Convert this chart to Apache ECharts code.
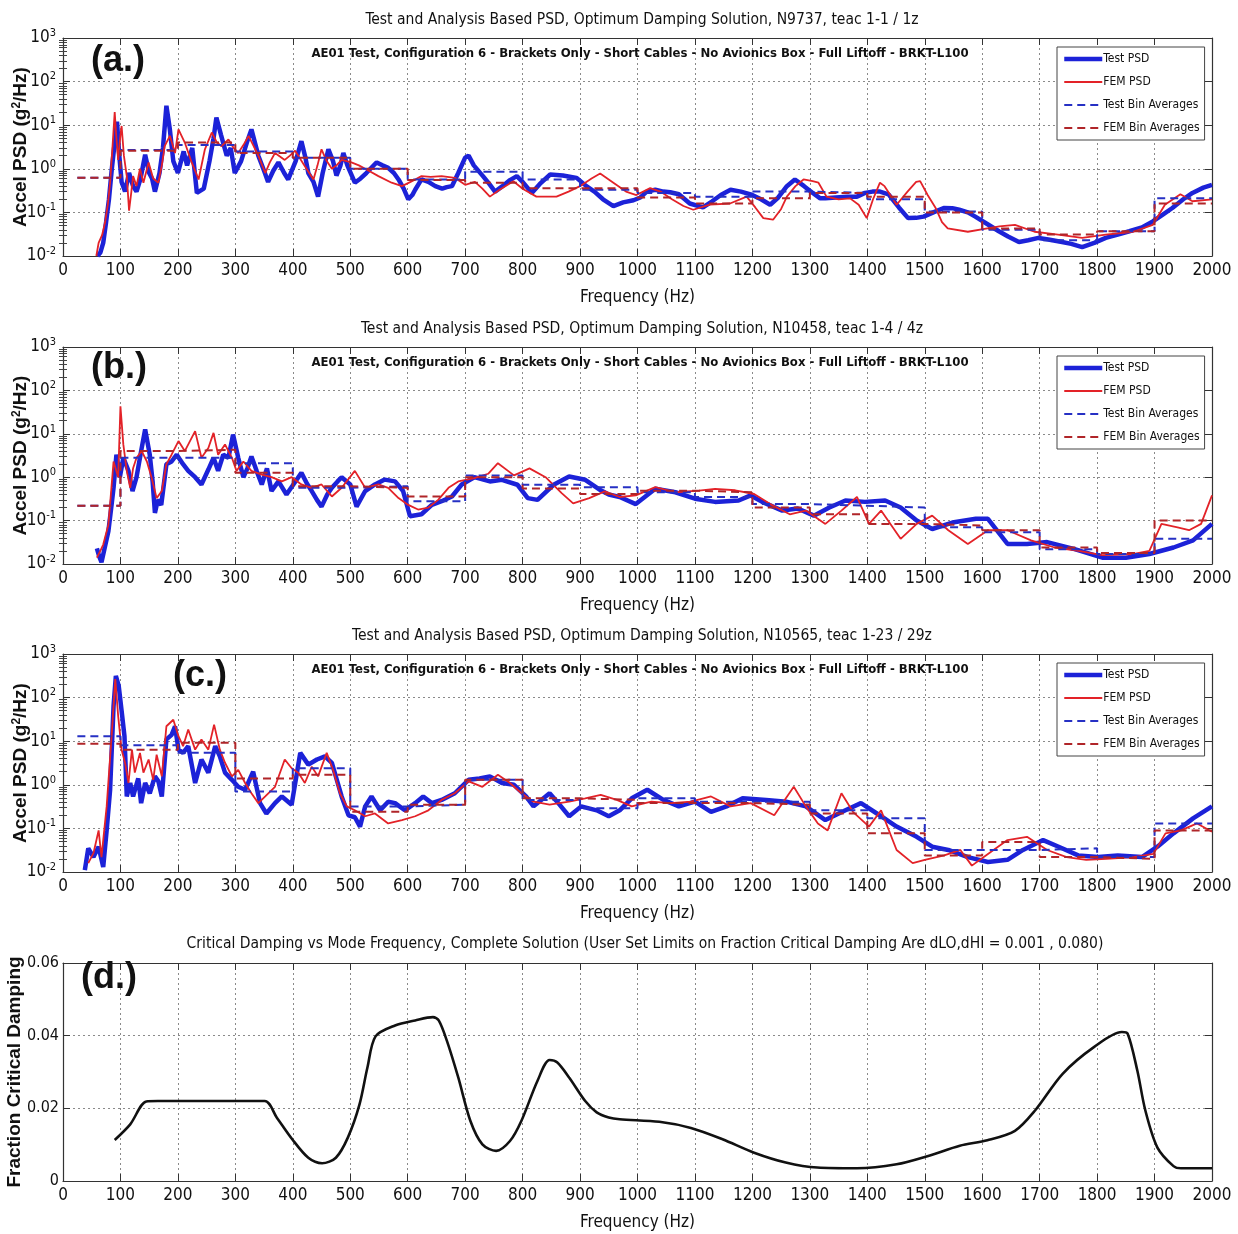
<!DOCTYPE html>
<html><head><meta charset="utf-8">
<script src="https://cdn.jsdelivr.net/npm/echarts@6/dist/echarts.min.js"></script>
<style>html,body{margin:0;padding:0;background:#fff}#c{width:1238px;height:1234px}</style>
</head><body><div id="c"></div>
<script>
// ---------------- DATA ----------------
const binStarts = [25,100,200,300,400,500,600,700,800,900,1000,1100,1200,1300,1400,1500,1600,1700,1800,1900];
const binLastEdge = 2000;

const testPsdA = [[60,0.01],[65,0.012],[70,0.02],[75,0.06],[80,0.2],[85,1],[90,4],[94,12],[98,2],[102,0.5],[108,0.3],[115,0.8],[122,0.4],[128,0.3],[135,0.6],[143,2.1],[150,0.8],[155,0.6],[160,0.3],[168,0.8],[174,3],[180,28],[186,8],[192,1.5],[200,0.8],[210,2.5],[216,1.2],[225,3],[233,0.28],[245,0.35],[255,1.5],[262,5],[267,15],[275,6],[285,2],[292,3],[299,0.8],[310,1.5],[320,4],[328,8],[340,2],[350,0.9],[357,0.5],[366,0.9],[375,1.4],[385,0.8],[392,0.57],[405,1.5],[415,4.3],[422,1.8],[427,0.8],[436,0.5],[444,0.23],[452,0.8],[462,2.8],[470,1.5],[476,0.7],[483,1.2],[488,2.3],[495,1.2],[508,0.48],[518,0.6],[528,0.8],[538,1.1],[546,1.4],[556,1.2],[566,1.05],[576,0.8],[584,0.57],[593,0.35],[601,0.2],[608,0.25],[613,0.33],[624,0.57],[636,0.5],[648,0.4],[660,0.35],[668,0.38],[677,0.4],[688,0.8],[700,1.8],[706,2],[715,1.2],[731,0.68],[742,0.45],[752,0.3],[765,0.4],[778,0.55],[790,0.68],[800,0.5],[816,0.28],[830,0.45],[848,0.74],[870,0.7],[894,0.62],[911,0.4],[925,0.3],[940,0.2],[958,0.14],[975,0.17],[993,0.19],[1005,0.22],[1016,0.3],[1031,0.33],[1045,0.3],[1057,0.29],[1072,0.26],[1091,0.16],[1114,0.13],[1130,0.18],[1145,0.25],[1162,0.33],[1180,0.3],[1197,0.26],[1215,0.2],[1231,0.15],[1245,0.22],[1260,0.4],[1274,0.57],[1290,0.4],[1305,0.28],[1318,0.21],[1327,0.21],[1345,0.22],[1365,0.23],[1382,0.23],[1396,0.28],[1409,0.3],[1422,0.3],[1437,0.26],[1455,0.13],[1471,0.074],[1485,0.075],[1498,0.08],[1515,0.1],[1533,0.126],[1548,0.125],[1560,0.115],[1575,0.1],[1588,0.08],[1608,0.055],[1629,0.037],[1645,0.028],[1664,0.021],[1680,0.023],[1698,0.026],[1715,0.024],[1739,0.021],[1755,0.019],[1774,0.016],[1795,0.02],[1815,0.026],[1836,0.031],[1856,0.037],[1878,0.045],[1897,0.062],[1915,0.09],[1931,0.126],[1950,0.2],[1966,0.28],[1985,0.37],[2000,0.43]];
const femPsdA = [[58,0.01],[62,0.02],[68,0.03],[73,0.057],[78,0.15],[82,0.48],[86,3],[90,20],[93,5],[96,1.6],[100,6],[102,9.6],[106,2],[111,0.68],[115,0.11],[119,0.3],[122,0.68],[128,0.4],[134,1],[140,0.48],[149,1.4],[157,0.6],[166,0.48],[172,1.2],[177,3.3],[186,5.7],[195,2.3],[201,8],[212,4],[224,1.4],[236,0.57],[247,2.8],[259,6.8],[268,4],[276,3.3],[288,4.7],[297,3],[305,2.3],[314,3.5],[323,5.7],[340,2],[352,0.8],[360,1.4],[369,2.3],[386,1.6],[395,2],[404,2.6],[421,1.15],[436,0.57],[443,1.2],[450,2.8],[458,1.6],[468,1],[476,1.2],[485,1.6],[502,1.4],[515,1.2],[526,1],[549,0.68],[572,0.48],[590,0.4],[605,0.5],[624,0.68],[640,0.65],[659,0.68],[682,0.62],[700,0.43],[717,0.5],[730,0.35],[743,0.23],[760,0.33],[784,0.52],[800,0.35],[824,0.23],[859,0.23],[880,0.3],[900,0.4],[920,0.6],[935,0.78],[958,0.48],[980,0.3],[998,0.25],[1022,0.36],[1040,0.3],[1060,0.2],[1080,0.14],[1097,0.115],[1126,0.15],[1161,0.16],[1190,0.23],[1205,0.13],[1219,0.074],[1236,0.068],[1250,0.12],[1260,0.23],[1275,0.4],[1289,0.57],[1305,0.52],[1315,0.48],[1329,0.23],[1350,0.2],[1370,0.21],[1385,0.15],[1399,0.074],[1410,0.2],[1422,0.48],[1430,0.4],[1440,0.25],[1451,0.15],[1470,0.3],[1485,0.5],[1492,0.52],[1505,0.25],[1519,0.126],[1530,0.06],[1540,0.043],[1575,0.036],[1609,0.043],[1630,0.048],[1657,0.052],[1691,0.036],[1732,0.031],[1774,0.026],[1815,0.031],[1863,0.036],[1897,0.052],[1918,0.15],[1945,0.26],[1966,0.18],[2000,0.2]];
const testBinsA = [0.62,2.7,3.5,2.5,1.8,1.0,0.57,0.86,0.57,0.33,0.28,0.23,0.3,0.28,0.2,0.105,0.04,0.023,0.037,0.21];
const femBinsA  = [0.62,2.6,4.0,2.3,1.8,1.0,0.55,0.48,0.36,0.36,0.22,0.16,0.21,0.28,0.23,0.1,0.043,0.031,0.037,0.16];

const testPsdB = [[59,0.023],[63,0.015],[67,0.011],[73,0.025],[79,0.057],[84,0.2],[88,0.57],[93,3.3],[99,1],[105,2.8],[114,1.4],[121,0.48],[128,1],[136,4],[143,12.6],[151,3.3],[156,0.8],[160,0.15],[165,0.3],[171,0.23],[180,2],[189,2.3],[198,3.3],[209,2],[218,1.4],[230,1],[241,0.68],[253,1.5],[262,2.8],[270,1.4],[279,3.3],[288,2.8],[296,9.6],[305,2.8],[314,1],[321,1.6],[328,3],[337,1.4],[346,0.68],[355,1.6],[363,0.48],[375,0.8],[389,0.4],[401,0.68],[415,1.26],[425,0.7],[433,0.48],[442,0.3],[450,0.21],[460,0.4],[468,0.57],[478,0.8],[485,1],[500,0.68],[511,0.21],[526,0.48],[543,0.68],[560,0.88],[578,0.8],[592,0.48],[604,0.126],[624,0.14],[642,0.23],[659,0.28],[677,0.36],[694,0.68],[716,1.0],[743,0.8],[764,0.87],[791,0.67],[809,0.33],[826,0.3],[854,0.67],[881,1.04],[909,0.87],[936,0.5],[950,0.4],[969,0.35],[997,0.24],[1031,0.54],[1066,0.45],[1100,0.32],[1135,0.27],[1176,0.29],[1197,0.38],[1217,0.27],[1252,0.17],[1279,0.19],[1307,0.13],[1334,0.2],[1362,0.29],[1396,0.27],[1431,0.29],[1458,0.2],[1486,0.1],[1513,0.064],[1548,0.09],[1589,0.11],[1610,0.11],[1644,0.029],[1678,0.029],[1713,0.032],[1761,0.022],[1809,0.014],[1850,0.014],[1891,0.017],[1933,0.024],[1967,0.035],[2000,0.084]];
const femPsdB = [[59,0.014],[65,0.02],[70,0.028],[79,0.08],[88,2.3],[96,1],[100,43],[105,5.7],[111,1.4],[117,0.57],[122,1.6],[128,2.8],[137,4],[146,2.3],[154,1],[163,0.33],[172,0.48],[180,2],[189,3.3],[201,6.8],[212,4],[230,11.5],[241,2.8],[253,4.7],[262,10.5],[270,3.3],[282,5.7],[294,2.8],[302,1.4],[314,2.3],[328,1.4],[346,1.15],[363,1],[381,0.8],[398,1],[415,0.68],[433,0.57],[450,0.68],[468,0.36],[485,0.57],[508,1.4],[526,0.57],[549,0.68],[566,0.57],[584,0.33],[601,0.23],[618,0.18],[636,0.2],[653,0.3],[671,0.57],[688,0.8],[716,0.95],[740,1.2],[757,2.1],[785,1.1],[812,1.6],[840,1.0],[868,0.43],[888,0.25],[916,0.33],[943,0.47],[969,0.35],[997,0.38],[1031,0.59],[1066,0.45],[1107,0.49],[1135,0.54],[1170,0.5],[1203,0.41],[1231,0.24],[1265,0.14],[1293,0.17],[1327,0.084],[1355,0.17],[1382,0.35],[1403,0.084],[1424,0.17],[1458,0.038],[1486,0.084],[1513,0.13],[1541,0.06],[1575,0.029],[1610,0.06],[1644,0.06],[1685,0.035],[1726,0.024],[1768,0.02],[1809,0.016],[1864,0.017],[1891,0.02],[1912,0.084],[1940,0.07],[1960,0.06],[1981,0.084],[2000,0.38]];
const testBinsB = [0.22,2.8,2.8,2.1,0.57,0.62,0.28,1.1,0.67,0.59,0.45,0.35,0.24,0.22,0.2,0.07,0.054,0.022,0.017,0.038];
const femBinsB  = [0.22,4.0,4.3,1.26,0.62,0.57,0.36,1.0,0.55,0.41,0.49,0.45,0.2,0.14,0.084,0.077,0.06,0.024,0.018,0.1];

const testPsdC = [[38,0.011],[44,0.035],[53,0.022],[62,0.038],[70,0.013],[76,0.09],[82,0.77],[88,64],[92,316],[97,185],[102,50],[107,13],[111,0.54],[117,1.1],[122,0.54],[131,1.4],[136,0.38],[143,1.1],[151,0.64],[160,1.56],[166,1.2],[172,0.54],[180,11],[189,14],[195,22],[201,6.4],[209,5.4],[218,7.7],[230,1.1],[241,3.8],[253,1.9],[265,7.7],[273,4.5],[282,1.9],[294,1.3],[305,0.9],[317,0.77],[331,2.0],[343,0.38],[354,0.22],[369,0.38],[381,0.54],[398,0.35],[413,5.4],[427,2.9],[442,3.8],[456,4.5],[468,3.2],[485,0.54],[497,0.2],[508,0.18],[517,0.11],[526,0.32],[537,0.54],[552,0.26],[566,0.41],[578,0.38],[595,0.26],[613,0.38],[627,0.54],[642,0.38],[659,0.45],[682,0.64],[706,1.3],[725,1.4],[743,1.56],[764,1.1],[785,1.0],[806,0.54],[819,0.32],[847,0.64],[860,0.41],[881,0.19],[902,0.32],[929,0.26],[950,0.19],[969,0.26],[990,0.49],[1017,0.77],[1045,0.45],[1072,0.32],[1100,0.41],[1128,0.24],[1155,0.32],[1183,0.49],[1224,0.45],[1259,0.41],[1293,0.32],[1327,0.155],[1362,0.26],[1389,0.38],[1424,0.19],[1451,0.11],[1486,0.064],[1513,0.038],[1541,0.032],[1575,0.022],[1610,0.017],[1644,0.019],[1671,0.032],[1706,0.054],[1733,0.038],[1767,0.024],[1802,0.022],[1836,0.024],[1878,0.022],[1905,0.038],[1933,0.077],[1967,0.17],[2000,0.32]];
const femPsdC = [[44,0.016],[53,0.027],[62,0.09],[67,0.022],[76,0.32],[85,15.5],[91,265],[96,38],[102,6.4],[108,3.2],[114,1.1],[120,6.4],[125,1.9],[134,5.4],[140,1.9],[149,3.8],[157,1.3],[163,4.9],[172,1.56],[180,22],[192,31],[201,13],[209,7.7],[218,18.6],[230,6.4],[241,11],[253,6.4],[263,24],[273,6.4],[282,3.2],[294,1.56],[305,2.2],[317,1.1],[328,0.64],[340,0.38],[352,0.54],[369,0.9],[386,3.8],[398,2.4],[410,1.86],[421,1.1],[433,2.6],[444,1.56],[459,5.4],[470,2.2],[482,0.64],[494,0.32],[508,0.26],[526,0.19],[543,0.22],[566,0.13],[590,0.155],[613,0.19],[636,0.26],[659,0.45],[682,0.64],[706,1.2],[730,0.9],[757,1.7],[778,1.1],[798,0.64],[819,0.41],[847,0.35],[881,0.41],[909,0.49],[936,0.59],[964,0.45],[990,0.32],[1024,0.41],[1058,0.38],[1093,0.41],[1128,0.54],[1162,0.32],[1197,0.38],[1238,0.2],[1272,0.9],[1293,0.32],[1314,0.13],[1331,0.09],[1355,0.64],[1375,0.24],[1403,0.11],[1424,0.26],[1451,0.032],[1479,0.016],[1500,0.019],[1534,0.024],[1562,0.032],[1582,0.014],[1610,0.026],[1644,0.054],[1678,0.064],[1713,0.032],[1747,0.022],[1781,0.019],[1816,0.02],[1864,0.022],[1898,0.026],[1919,0.077],[1946,0.09],[1974,0.13],[2000,0.084]];
const testBinsC = [13,8.1,5.4,0.7,2.4,0.32,0.35,1.3,0.45,0.29,0.49,0.41,0.41,0.26,0.17,0.032,0.032,0.035,0.022,0.13];
const femBinsC  = [8.7,6.4,9.2,1.4,1.7,0.24,0.35,1.3,0.49,0.45,0.38,0.38,0.35,0.22,0.077,0.024,0.049,0.022,0.02,0.09];

const dampingD = [[90,0.0113],[117,0.0156],[145,0.0219],[165,0.022],[351,0.022],[372,0.0175],[399,0.0115],[427,0.0064],[451,0.0049],[475,0.0064],[496,0.012],[516,0.021],[530,0.0313],[544,0.0398],[578,0.0428],[613,0.0442],[644,0.0451],[654,0.0442],[668,0.0387],[688,0.0285],[709,0.0166],[730,0.0101],[754,0.0083],[778,0.011],[798,0.0166],[826,0.0276],[847,0.0333],[860,0.0327],[881,0.0285],[909,0.022],[929,0.0189],[950,0.0175],[969,0.017],[1038,0.0163],[1093,0.0146],[1148,0.0115],[1203,0.0078],[1258,0.0051],[1313,0.0037],[1382,0.0035],[1451,0.0046],[1506,0.0069],[1561,0.0097],[1609,0.0112],[1657,0.0138],[1692,0.0194],[1740,0.0295],[1795,0.0369],[1843,0.041],[1853,0.0406],[1870,0.0304],[1884,0.0194],[1905,0.0092],[1933,0.0041],[1946,0.0035],[2000,0.0035]];

const psdTitles = [
  'Test and Analysis Based PSD, Optimum Damping Solution, N9737, teac 1-1 / 1z',
  'Test and Analysis Based PSD, Optimum Damping Solution, N10458, teac 1-4 / 4z',
  'Test and Analysis Based PSD, Optimum Damping Solution, N10565, teac 1-23 / 29z'
];
const dampTitle = 'Critical Damping vs Mode Frequency, Complete Solution (User Set Limits on Fraction Critical Damping Are dLO,dHI = 0.001 , 0.080)';
const subTitle = 'AE01 Test, Configuration 6 - Brackets Only - Short Cables - No Avionics Box - Full Liftoff - BRKT-L100';
const panelLabels = ['(a.)','(b.)','(c.)','(d.)'];
const seriesNames = ['Test PSD','FEM PSD','Test Bin Averages','FEM Bin Averages'];

// ---------------- LAYOUT / STYLE ----------------
const NARROW = "'Liberation Sans Narrow','Arial Narrow','DejaVu Sans Condensed',sans-serif";
const BOLDF = "'Liberation Sans',Arial,sans-serif";
const gridTop = [38, 347, 654, 963];
const gridH = [218, 217, 218, 218];
const plotLeft = 63, plotW = 1149;
const labelPos = [[86,38],[86,345],[168,653],[76,955]];

// log-decade minor tick positions (in exponent units) for the MATLAB-style ruler
const logMinor = [];
for (let k=-2;k<3;k++) for (let m=2;m<10;m++) logMinor.push(k+Math.log10(m));

const psd = [
  {test:testPsdA, fem:femPsdA, tb:testBinsA, fb:femBinsA},
  {test:testPsdB, fem:femPsdB, tb:testBinsB, fb:femBinsB},
  {test:testPsdC, fem:femPsdC, tb:testBinsC, fb:femBinsC}
];
function binSteps(vals){
  const d = binStarts.map((s,i)=>[s, vals[i]]);
  d.push([binLastEdge, vals[vals.length-1]]);
  return d;
}

const axisColor = '#333';
const gridLine = {show:true, lineStyle:{color:'#8a8a8a', type:[2,3], width:1}};
const grids = [], xAxes = [], yAxes = [], series = [], titles = [], legends = [];
for (let i=0;i<4;i++){
  grids.push({left:plotLeft, width:plotW, top:gridTop[i], height:gridH[i], containLabel:false, outerBoundsMode:'none'});
  const xBase = {gridIndex:i, type:'value', min:0, max:2000, interval:100};
  xAxes.push(Object.assign({}, xBase, {
    position:'bottom',
    name:'Frequency (Hz)', nameLocation:'middle', nameGap:33, nameMoveOverlap:false,
    nameTextStyle:{fontFamily:NARROW, fontSize:17, color:'#111'},
    axisLine:{show:true, onZero:false, lineStyle:{color:axisColor, width:1.2}},
    axisTick:{show:true, inside:true, length:7, lineStyle:{color:axisColor}},
    axisLabel:{fontFamily:NARROW, fontSize:17, color:'#111', margin:6, formatter:v=>String(v)},
    splitLine:gridLine
  }));
  xAxes.push(Object.assign({}, xBase, {
    position:'top',
    axisLine:{show:true, onZero:false, lineStyle:{color:axisColor, width:1.2}},
    axisTick:{show:true, inside:true, length:7, lineStyle:{color:axisColor}},
    axisLabel:{show:false}, splitLine:{show:false}
  }));
  if (i<3){
    const yBase = {gridIndex:i, type:'log', logBase:10, min:0.01, max:1000};
    yAxes.push(Object.assign({}, yBase, {
      position:'left',
      name:'Accel PSD (g{sup|2}/Hz)', nameLocation:'middle', nameGap:33, nameRotate:90, nameMoveOverlap:false,
      nameTextStyle:{fontFamily:BOLDF, fontWeight:'bold', fontSize:19, color:'#111',
        rich:{sup:{fontFamily:BOLDF, fontWeight:'bold', fontSize:12, verticalAlign:'top', lineHeight:14, color:'#111'}}},
      axisLine:{show:true, onZero:false, lineStyle:{color:axisColor, width:1.2}},
      axisTick:{show:true, inside:true, length:7, lineStyle:{color:axisColor}},
      axisLabel:{fontFamily:NARROW, fontSize:17, color:'#111', margin:7,
        formatter:v=>'10{sup|'+Math.round(Math.log10(v))+'}',
        rich:{sup:{fontFamily:NARROW, fontSize:11, color:'#111', verticalAlign:'top', padding:[0,0,10,0]}}},
      splitLine:gridLine
    }));
    yAxes.push(Object.assign({}, yBase, {
      position:'right',
      axisLine:{show:true, onZero:false, lineStyle:{color:axisColor, width:1.2}},
      axisTick:{show:true, inside:true, length:7, lineStyle:{color:axisColor}},
      axisLabel:{show:false}, splitLine:{show:false}
    }));
    // minor-tick rulers (exponent space), left and right
    ['left','right'].forEach(pos=>{
      yAxes.push({gridIndex:i, type:'value', min:-2, max:3, position:pos, silent:true,
        axisLine:{show:false}, axisLabel:{show:false}, splitLine:{show:false},
        axisTick:{show:true, inside:true, length:4, customValues:logMinor, lineStyle:{color:'#444'}}});
    });
    const p = psd[i];
    const xi = i*2, yi = i*4;
    series.push({name:seriesNames[0], type:'line', xAxisIndex:xi, yAxisIndex:yi, data:p.test, symbol:'none', clip:true,
      lineStyle:{color:'#1c22d8', width:4.5}, itemStyle:{color:'#1c22d8'}, z:2});
    series.push({name:seriesNames[1], type:'line', xAxisIndex:xi, yAxisIndex:yi, data:p.fem, symbol:'none', clip:true,
      lineStyle:{color:'#e32228', width:1.8}, itemStyle:{color:'#e32228'}, z:3});
    series.push({name:seriesNames[2], type:'line', xAxisIndex:xi, yAxisIndex:yi, data:binSteps(p.tb), step:'end', symbol:'none', clip:true,
      lineStyle:{color:'#2630c4', width:2, type:[8,5]}, itemStyle:{color:'#2630c4'}, z:4});
    series.push({name:seriesNames[3], type:'line', xAxisIndex:xi, yAxisIndex:yi, data:binSteps(p.fb), step:'end', symbol:'none', clip:true,
      lineStyle:{color:'#b02529', width:2, type:[8,5]}, itemStyle:{color:'#b02529'}, z:5});
    titles.push({text:psdTitles[i], left:637, top:gridTop[i]-31, textAlign:'center',
      textStyle:{fontFamily:NARROW, fontSize:15.5, fontWeight:'normal', color:'#111'}});
    titles.push({text:subTitle, left:635, top:gridTop[i]+4, textAlign:'center',
      textStyle:{fontFamily:NARROW, fontSize:13, fontWeight:'bold', color:'#111'}});
    legends.push({data:seriesNames, orient:'vertical', left:1057, top:gridTop[i]+9,
      backgroundColor:'#fff', borderColor:'#444', borderWidth:1, borderRadius:0,
      padding:[6,5,6,5], itemGap:11, itemWidth:38, itemHeight:14, selectedMode:false,
      itemStyle:{opacity:0},
      textStyle:{fontFamily:NARROW, fontSize:12, color:'#111', padding:[0,0,0,-4]},
      lineStyle:{width:'inherit'}});
  } else {
    yAxes.push({gridIndex:i, type:'value', min:0, max:0.06, interval:0.02, position:'left',
      name:'Fraction Critical Damping', nameLocation:'middle', nameGap:39, nameRotate:90, nameMoveOverlap:false,
      nameTextStyle:{fontFamily:BOLDF, fontWeight:'bold', fontSize:19, color:'#111'},
      axisLine:{show:true, onZero:false, lineStyle:{color:axisColor, width:1.2}},
      axisTick:{show:true, inside:true, length:7, lineStyle:{color:axisColor}},
      axisLabel:{fontFamily:NARROW, fontSize:16, color:'#111', margin:4, formatter:v=> v===0?'0':v.toFixed(2)},
      splitLine:gridLine});
    yAxes.push({gridIndex:i, type:'value', min:0, max:0.06, interval:0.02, position:'right',
      axisLine:{show:true, onZero:false, lineStyle:{color:axisColor, width:1.2}},
      axisTick:{show:true, inside:true, length:7, lineStyle:{color:axisColor}},
      axisLabel:{show:false}, splitLine:{show:false}});
    series.push({name:'Damping', type:'line', xAxisIndex:6, yAxisIndex:12, data:dampingD, symbol:'none', smooth:0.3,
      lineStyle:{color:'#111', width:2.6}, z:3});
    titles.push({text:dampTitle, left:640, top:gridTop[i]-32, textAlign:'center',
      textStyle:{fontFamily:NARROW, fontSize:15.5, fontWeight:'normal', color:'#111'}});
  }
  titles.push({text:panelLabels[i], left:labelPos[i][0], top:labelPos[i][1],
    textStyle:{fontFamily:BOLDF, fontSize:36, fontWeight:'bold', color:'#111'}});
}

const chart = echarts.init(document.getElementById('c'), null, {renderer:'canvas'});
chart.setOption({
  animation:false,
  backgroundColor:'#fff',
  title:titles, legend:legends, grid:grids, xAxis:xAxes, yAxis:yAxes, series:series
});
</script></body></html>
